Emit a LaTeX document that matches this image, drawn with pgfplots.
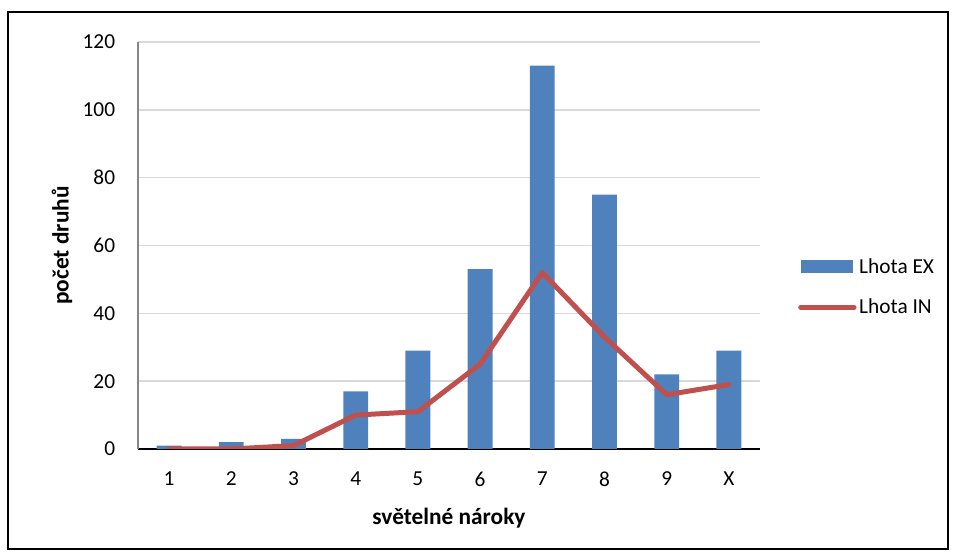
\documentclass[border=0pt]{standalone}
\usepackage{fontspec}
\setmainfont{Carlito}
\usepackage{pgfplots}
\pgfplotsset{compat=1.18}
\definecolor{barblue}{HTML}{4F81BD}
\definecolor{linered}{HTML}{C0504D}
\definecolor{gridgray}{HTML}{D9D9D9}
\definecolor{axgray}{HTML}{868686}
\begin{document}
\begin{tikzpicture}
\path (0,0) rectangle (717pt,417pt);
\draw[line width=1.2pt] (6pt,5.25pt) rectangle (711pt,408pt);
\begin{axis}[
  at={(103.5pt,80.25pt)}, anchor=south west,
  scale only axis, width=466.5pt, height=305.25pt,
  xmin=0.5, xmax=10.5, ymin=0, ymax=120,
  xtick={1,...,10}, xticklabels={1,2,3,4,5,6,7,8,9,X},
  ytick={0,20,...,120},
  major tick length=0pt,
  axis x line=bottom, axis y line=left,
  axis line style={-},
  x axis line style={black, line width=1.2pt},
  y axis line style={axgray, line width=0.8pt},
  ymajorgrids, grid style={gridgray, line width=1.1pt},
  font=\fontsize{16}{18}\selectfont,
  tick label style={font=\fontsize{16}{18}\selectfont},
  label style={font=\fontsize{17.5}{20}\selectfont\bfseries},
  /pgf/number format/assume math mode=true,
  yticklabel style={anchor=east, inner sep=0pt, xshift=-17pt},
  xticklabel style={anchor=center, yshift=-22.5pt},
  xlabel={světelné nároky}, ylabel={počet druhů},
  xlabel style={at={(axis description cs:0.5,-0.170)}, anchor=center},
  ylabel style={at={(axis description cs:-0.122,0.5)}, anchor=center},
  legend style={at={(axis description cs:1.061,0.398)}, anchor=west, draw=none, fill=none,
    font=\fontsize{16}{18}\selectfont, row sep=14pt, inner sep=0pt,
    /tikz/every even column/.append style={column sep=0pt}},
  legend cell align=left,
]
\addplot[ybar, bar width=0.4, bar shift=0pt, fill=barblue, draw=none,
  legend image code/.code={\fill[barblue] (0pt,-5pt) rectangle (39pt,5pt);}]
  coordinates {(1,1) (2,2) (3,3) (4,17) (5,29) (6,53) (7,113) (8,75) (9,22) (10,29)};
\addlegendentry{Lhota EX}
\addplot[linered, line width=3.75pt, line join=round, line cap=round, mark=none,
  legend image code/.code={\draw[linered, line width=3.75pt, line cap=round] (0pt,0pt) -- (40pt,0pt);}]
  coordinates {(1,0) (2,0) (3,1) (4,10) (5,11) (6,25) (7,52) (8,33) (9,16) (10,19)};
\addlegendentry{Lhota IN}
\end{axis}
\end{tikzpicture}
\end{document}
